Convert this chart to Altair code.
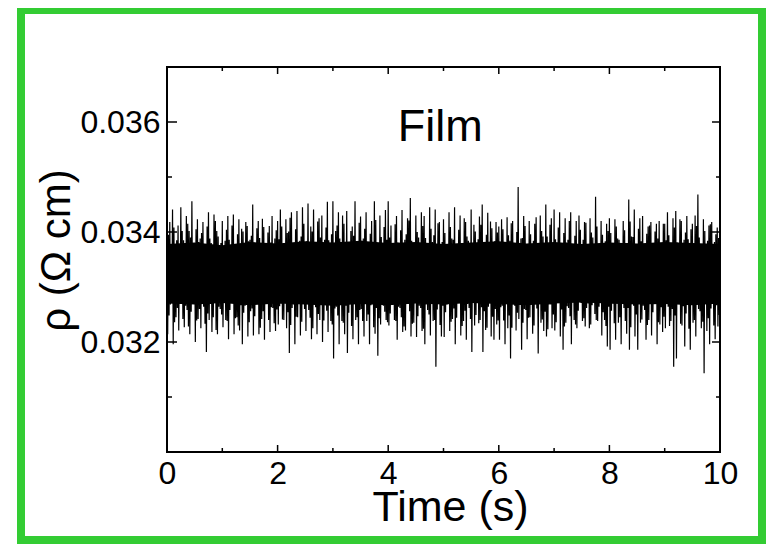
import altair as alt
import pandas as pd

# ---------------- data ----------------
x_ticks_major = [0, 2, 4, 6, 8, 10]
x_ticks_minor = [1, 3, 5, 7, 9]
y_ticks_major = [0.032, 0.034, 0.036]
y_ticks_minor = [0.031, 0.033, 0.035]

# spike tops (one every 0.05 s, at t) and spike bottoms (at t + 0.0125 s)
peaks_0_2 = [0.03378, 0.03418, 0.03441, 0.03365, 0.03412, 0.03445, 0.03385, 0.03429, 0.03402, 0.03456,
             0.03372, 0.03423, 0.03388, 0.03418, 0.03362, 0.03436, 0.03380, 0.03432, 0.03402, 0.03370,
             0.03420, 0.03384, 0.03429, 0.03368, 0.03432, 0.03376, 0.03423, 0.03406, 0.03364, 0.03411,
             0.03386, 0.03450, 0.03372, 0.03420, 0.03380, 0.03409, 0.03366, 0.03411, 0.03429, 0.03388]
peaks_2_4 = [0.03420, 0.03441, 0.03376, 0.03423, 0.03401, 0.03436, 0.03366, 0.03438, 0.03384, 0.03445,
             0.03372, 0.03452, 0.03410, 0.03441, 0.03364, 0.03425, 0.03430, 0.03386, 0.03455, 0.03378,
             0.03456, 0.03402, 0.03436, 0.03370, 0.03415, 0.03438, 0.03382, 0.03410, 0.03456, 0.03368,
             0.03428, 0.03388, 0.03436, 0.03374, 0.03420, 0.03456, 0.03380, 0.03430, 0.03365, 0.03440]
peaks_4_6 = [0.03456, 0.03412, 0.03378, 0.03429, 0.03366, 0.03440, 0.03386, 0.03425, 0.03462, 0.03372,
             0.03430, 0.03390, 0.03436, 0.03429, 0.03368, 0.03445, 0.03382, 0.03441, 0.03416, 0.03362,
             0.03423, 0.03376, 0.03436, 0.03388, 0.03445, 0.03370, 0.03430, 0.03365, 0.03418, 0.03384,
             0.03441, 0.03413, 0.03374, 0.03428, 0.03450, 0.03380, 0.03435, 0.03419, 0.03368, 0.03418]
peaks_6_8 = [0.03410, 0.03423, 0.03370, 0.03427, 0.03384, 0.03420, 0.03366, 0.03482, 0.03388, 0.03429,
             0.03374, 0.03420, 0.03362, 0.03415, 0.03380, 0.03430, 0.03392, 0.03450, 0.03368, 0.03425,
             0.03441, 0.03378, 0.03436, 0.03372, 0.03425, 0.03386, 0.03436, 0.03364, 0.03420, 0.03430,
             0.03376, 0.03418, 0.03366, 0.03425, 0.03390, 0.03464, 0.03374, 0.03420, 0.03362, 0.03415]
peaks_8_10 = [0.03425, 0.03376, 0.03423, 0.03388, 0.03365, 0.03420, 0.03380, 0.03459, 0.03392, 0.03441,
              0.03370, 0.03425, 0.03429, 0.03366, 0.03410, 0.03418, 0.03362, 0.03415, 0.03420, 0.03378,
              0.03415, 0.03436, 0.03372, 0.03425, 0.03438, 0.03368, 0.03420, 0.03386, 0.03429, 0.03364,
              0.03415, 0.03430, 0.03468, 0.03376, 0.03423, 0.03366, 0.03412, 0.03418, 0.03382, 0.03408]

troughs_0_2 = [0.03214, 0.03268, 0.03196, 0.03245, 0.03221, 0.03276, 0.03227, 0.03258, 0.03214, 0.03282,
               0.03200, 0.03242, 0.03225, 0.03264, 0.03182, 0.03240, 0.03218, 0.03272, 0.03214, 0.03260,
               0.03227, 0.03240, 0.03205, 0.03278, 0.03214, 0.03245, 0.03221, 0.03196, 0.03266, 0.03210,
               0.03256, 0.03212, 0.03274, 0.03214, 0.03242, 0.03204, 0.03280, 0.03218, 0.03262, 0.03220]
troughs_2_4 = [0.03232, 0.03270, 0.03240, 0.03225, 0.03180, 0.03262, 0.03196, 0.03245, 0.03212, 0.03278,
               0.03220, 0.03258, 0.03205, 0.03268, 0.03214, 0.03240, 0.03200, 0.03282, 0.03218, 0.03238,
               0.03170, 0.03264, 0.03196, 0.03238, 0.03214, 0.03180, 0.03276, 0.03205, 0.03240, 0.03196,
               0.03260, 0.03210, 0.03238, 0.03196, 0.03272, 0.03215, 0.03175, 0.03232, 0.03266, 0.03240]
troughs_4_6 = [0.03230, 0.03274, 0.03240, 0.03204, 0.03262, 0.03218, 0.03221, 0.03280, 0.03210, 0.03235,
               0.03209, 0.03266, 0.03220, 0.03196, 0.03258, 0.03212, 0.03238, 0.03155, 0.03276, 0.03210,
               0.03209, 0.03268, 0.03220, 0.03242, 0.03196, 0.03282, 0.03212, 0.03238, 0.03204, 0.03262,
               0.03182, 0.03230, 0.03272, 0.03240, 0.03182, 0.03222, 0.03264, 0.03210, 0.03204, 0.03232]
troughs_6_8 = [0.03204, 0.03266, 0.03196, 0.03225, 0.03170, 0.03278, 0.03221, 0.03242, 0.03186, 0.03260,
               0.03205, 0.03245, 0.03215, 0.03272, 0.03179, 0.03235, 0.03220, 0.03210, 0.03268, 0.03225,
               0.03221, 0.03280, 0.03210, 0.03186, 0.03235, 0.03262, 0.03196, 0.03240, 0.03225, 0.03274,
               0.03238, 0.03228, 0.03270, 0.03232, 0.03276, 0.03240, 0.03264, 0.03212, 0.03240, 0.03192]
troughs_8_10 = [0.03186, 0.03270, 0.03204, 0.03235, 0.03196, 0.03262, 0.03215, 0.03186, 0.03278, 0.03210,
                0.03186, 0.03235, 0.03266, 0.03204, 0.03240, 0.03212, 0.03274, 0.03196, 0.03232, 0.03218,
                0.03225, 0.03264, 0.03238, 0.03155, 0.03170, 0.03280, 0.03230, 0.03192, 0.03268, 0.03186,
                0.03235, 0.03210, 0.03260, 0.03225, 0.03143, 0.03220, 0.03196, 0.03272, 0.03205, 0.03228]

# the denser, shorter samples in between (tops at t + 0.025 s, bottoms at t + 0.0375 s)
inner_peaks_0_2 = [0.03395, 0.03372, 0.03408, 0.03385, 0.03366, 0.03402, 0.03378, 0.03415, 0.03390, 0.03368,
                   0.03405, 0.03382, 0.03398, 0.03363, 0.03410, 0.03388, 0.03375, 0.03420, 0.03392, 0.03380,
                   0.03369, 0.03404, 0.03386, 0.03412, 0.03377, 0.03396, 0.03365, 0.03401, 0.03418, 0.03383,
                   0.03393, 0.03370, 0.03407, 0.03389, 0.03424, 0.03374, 0.03399, 0.03381, 0.03367, 0.03403]
inner_peaks_2_4 = [0.03387, 0.03410, 0.03371, 0.03398, 0.03426, 0.03380, 0.03405, 0.03366, 0.03392, 0.03415,
                   0.03383, 0.03369, 0.03401, 0.03377, 0.03419, 0.03390, 0.03364, 0.03408, 0.03385, 0.03396,
                   0.03374, 0.03412, 0.03388, 0.03430, 0.03379, 0.03367, 0.03402, 0.03393, 0.03376, 0.03417,
                   0.03384, 0.03406, 0.03368, 0.03397, 0.03381, 0.03422, 0.03373, 0.03391, 0.03409, 0.03386]
inner_peaks_4_6 = [0.03390, 0.03368, 0.03414, 0.03381, 0.03403, 0.03375, 0.03396, 0.03421, 0.03384, 0.03365,
                   0.03400, 0.03378, 0.03411, 0.03389, 0.03372, 0.03406, 0.03394, 0.03367, 0.03418, 0.03382,
                   0.03398, 0.03371, 0.03409, 0.03386, 0.03363, 0.03404, 0.03379, 0.03425, 0.03392, 0.03376,
                   0.03366, 0.03401, 0.03387, 0.03413, 0.03374, 0.03395, 0.03369, 0.03407, 0.03383, 0.03399]
inner_peaks_6_8 = [0.03382, 0.03405, 0.03370, 0.03394, 0.03416, 0.03377, 0.03400, 0.03365, 0.03389, 0.03411,
                   0.03373, 0.03396, 0.03384, 0.03427, 0.03368, 0.03402, 0.03379, 0.03392, 0.03413, 0.03371,
                   0.03387, 0.03408, 0.03364, 0.03398, 0.03381, 0.03420, 0.03375, 0.03393, 0.03369, 0.03404,
                   0.03386, 0.03417, 0.03372, 0.03399, 0.03378, 0.03410, 0.03366, 0.03395, 0.03383, 0.03402]
inner_peaks_8_10 = [0.03398, 0.03374, 0.03410, 0.03386, 0.03367, 0.03403, 0.03380, 0.03419, 0.03391, 0.03370,
                    0.03406, 0.03383, 0.03364, 0.03397, 0.03412, 0.03377, 0.03401, 0.03388, 0.03368, 0.03415,
                    0.03385, 0.03394, 0.03372, 0.03408, 0.03381, 0.03423, 0.03366, 0.03399, 0.03387, 0.03405,
                    0.03376, 0.03411, 0.03390, 0.03369, 0.03402, 0.03384, 0.03414, 0.03373, 0.03396, 0.03389]

inner_troughs_0_2 = [0.03248, 0.03271, 0.03236, 0.03262, 0.03280, 0.03242, 0.03266, 0.03228, 0.03255, 0.03274,
                     0.03239, 0.03260, 0.03278, 0.03233, 0.03252, 0.03269, 0.03245, 0.03222, 0.03264, 0.03250,
                     0.03276, 0.03238, 0.03258, 0.03281, 0.03243, 0.03230, 0.03267, 0.03253, 0.03272, 0.03236,
                     0.03261, 0.03247, 0.03279, 0.03226, 0.03256, 0.03270, 0.03240, 0.03263, 0.03234, 0.03259]
inner_troughs_2_4 = [0.03265, 0.03241, 0.03277, 0.03254, 0.03231, 0.03268, 0.03246, 0.03273, 0.03237, 0.03260,
                     0.03282, 0.03244, 0.03225, 0.03263, 0.03251, 0.03275, 0.03239, 0.03257, 0.03270, 0.03232,
                     0.03261, 0.03248, 0.03279, 0.03235, 0.03266, 0.03253, 0.03229, 0.03271, 0.03245, 0.03258,
                     0.03238, 0.03274, 0.03250, 0.03267, 0.03227, 0.03262, 0.03243, 0.03280, 0.03255, 0.03236]
inner_troughs_4_6 = [0.03252, 0.03276, 0.03238, 0.03264, 0.03245, 0.03228, 0.03270, 0.03256, 0.03233, 0.03279,
                     0.03247, 0.03262, 0.03224, 0.03268, 0.03250, 0.03273, 0.03240, 0.03259, 0.03231, 0.03266,
                     0.03254, 0.03281, 0.03237, 0.03261, 0.03244, 0.03272, 0.03229, 0.03257, 0.03269, 0.03242,
                     0.03275, 0.03249, 0.03234, 0.03263, 0.03256, 0.03226, 0.03271, 0.03246, 0.03260, 0.03239]
inner_troughs_6_8 = [0.03263, 0.03239, 0.03274, 0.03248, 0.03226, 0.03266, 0.03253, 0.03279, 0.03235, 0.03258,
                     0.03244, 0.03270, 0.03230, 0.03261, 0.03277, 0.03241, 0.03255, 0.03223, 0.03268, 0.03250,
                     0.03236, 0.03273, 0.03259, 0.03228, 0.03265, 0.03247, 0.03280, 0.03232, 0.03257, 0.03271,
                     0.03243, 0.03262, 0.03225, 0.03267, 0.03251, 0.03238, 0.03276, 0.03254, 0.03229, 0.03264]
inner_troughs_8_10 = [0.03257, 0.03234, 0.03270, 0.03245, 0.03278, 0.03238, 0.03262, 0.03227, 0.03266, 0.03250,
                      0.03275, 0.03241, 0.03258, 0.03231, 0.03269, 0.03254, 0.03280, 0.03236, 0.03263, 0.03246,
                      0.03272, 0.03229, 0.03260, 0.03248, 0.03277, 0.03233, 0.03265, 0.03252, 0.03224, 0.03268,
                      0.03240, 0.03274, 0.03256, 0.03237, 0.03279, 0.03243, 0.03261, 0.03230, 0.03267, 0.03249]

# solid core of the noise band (every 0.5 s)
core_t = [0, 0.5, 1, 1.5, 2, 2.5, 3, 3.5, 4, 4.5, 5, 5.5, 6, 6.5, 7, 7.5, 8, 8.5, 9, 9.5, 10]
core_top = [0.03378, 0.03381, 0.03376, 0.03382, 0.03379, 0.03383, 0.03381, 0.03384, 0.03380, 0.03382, 0.03378,
            0.03381, 0.03383, 0.03379, 0.03382, 0.03378, 0.03381, 0.03379, 0.03382, 0.03380, 0.03378]
core_bot = [0.03270, 0.03268, 0.03271, 0.03267, 0.03270, 0.03268, 0.03266, 0.03269, 0.03267, 0.03270, 0.03268,
            0.03271, 0.03269, 0.03267, 0.03270, 0.03272, 0.03270, 0.03268, 0.03269, 0.03267, 0.03270]

label_text = ["Film"]
label_t = [4.94]
label_v = [0.03566]

# ---------------- tables ----------------
peaks = peaks_0_2 + peaks_2_4 + peaks_4_6 + peaks_6_8 + peaks_8_10
troughs = troughs_0_2 + troughs_2_4 + troughs_4_6 + troughs_6_8 + troughs_8_10
inner_peaks = inner_peaks_0_2 + inner_peaks_2_4 + inner_peaks_4_6 + inner_peaks_6_8 + inner_peaks_8_10
inner_troughs = (inner_troughs_0_2 + inner_troughs_2_4 + inner_troughs_4_6
                 + inner_troughs_6_8 + inner_troughs_8_10)
rows = []
for i, (p, q, p2, q2) in enumerate(zip(peaks, troughs, inner_peaks, inner_troughs)):
    t0 = i * 0.05
    rows.append({"t": round(t0, 5), "v": p})
    rows.append({"t": round(t0 + 0.0125, 5), "v": q})
    rows.append({"t": round(t0 + 0.025, 5), "v": p2})
    rows.append({"t": round(t0 + 0.0375, 5), "v": q2})
trace = pd.DataFrame(rows)
core = pd.DataFrame({"t": core_t, "top": core_top, "bot": core_bot})
label = pd.DataFrame({"t": label_t, "v": label_v, "text": label_text})
xmaj = pd.DataFrame({"t": x_ticks_major})
xmin = pd.DataFrame({"t": x_ticks_minor})
ymaj = pd.DataFrame({"v": y_ticks_major})
ymin = pd.DataFrame({"v": y_ticks_minor})

W, H = 553, 385
FONT = "Liberation Sans"

xscale = alt.Scale(domain=[0, 10], nice=False, zero=False)
yscale = alt.Scale(domain=[0.030, 0.037], nice=False, zero=False)

xaxis = alt.Axis(values=x_ticks_major, format="d", title="Time (s)",
                 labelFontSize=32, labelBaseline="alphabetic", labelPadding=31, labelFlush=False,
                 titleFontSize=43, titleFontWeight="normal", titleBaseline="alphabetic",
                 titleX=283, titleY=68, titleAlign="center")
yaxis = alt.Axis(values=y_ticks_major, format=".3f", title="ρ (Ω cm)",
                 labelFontSize=32, labelPadding=7, labelBaseline="middle", labelFlush=False,
                 titleFontSize=42, titleFontWeight="normal", titleBaseline="alphabetic",
                 titleAngle=270, titleX=-98, titleY=183, titleAlign="center")

frame = alt.Chart(pd.DataFrame({"a": [0]})).mark_rect(
    filled=False, stroke="#33cc33", strokeWidth=8
).encode(x=alt.value(-146), x2=alt.value(595), y=alt.value(-57), y2=alt.value(473))

core_area = alt.Chart(core).mark_area(color="black", opacity=1).encode(
    x=alt.X("t:Q", scale=xscale, axis=xaxis),
    y=alt.Y("top:Q", scale=yscale, axis=yaxis),
    y2="bot:Q",
)

line = alt.Chart(trace).mark_line(color="black", strokeWidth=1.2, strokeJoin="bevel").encode(
    x=alt.X("t:Q", scale=xscale),
    y=alt.Y("v:Q", scale=yscale),
    order="t:Q",
)

text = alt.Chart(label).mark_text(fontSize=45, font=FONT, align="center",
                                   baseline="alphabetic", color="black").encode(
    x=alt.X("t:Q", scale=xscale), y=alt.Y("v:Q", scale=yscale), text="text:N")

def xticks(df, y0, y1):
    return alt.Chart(df).mark_rule(color="black", strokeWidth=1.5).encode(
        x=alt.X("t:Q", scale=xscale), y=alt.value(y0), y2=alt.value(y1))

def yticks(df, x0, x1):
    return alt.Chart(df).mark_rule(color="black", strokeWidth=1.5).encode(
        y=alt.Y("v:Q", scale=yscale), x=alt.value(x0), x2=alt.value(x1))

ticks = [
    xticks(xmaj, H, H - 7), xticks(xmin, H, H - 4),
    xticks(xmaj, 0, 7), xticks(xmin, 0, 4),
    yticks(ymaj, 0, 10), yticks(ymin, 0, 5),
    yticks(ymaj, W, W - 8), yticks(ymin, W, W - 4),
]

chart = alt.layer(frame, core_area, line, text, *ticks).properties(
    width=W, height=H,
    autosize=alt.AutoSizeParams(type="none"),
    padding={"left": 159, "top": 59, "right": 46, "bottom": 92},
    background="white",
).configure_view(
    stroke="black", strokeWidth=2
).configure_axis(
    grid=False, domain=False, ticks=False, tickSize=0,
    labelFont=FONT, titleFont=FONT, labelColor="black", titleColor="black",
)

chart.save("out.html", embed_options={"renderer": "svg", "actions": False})
